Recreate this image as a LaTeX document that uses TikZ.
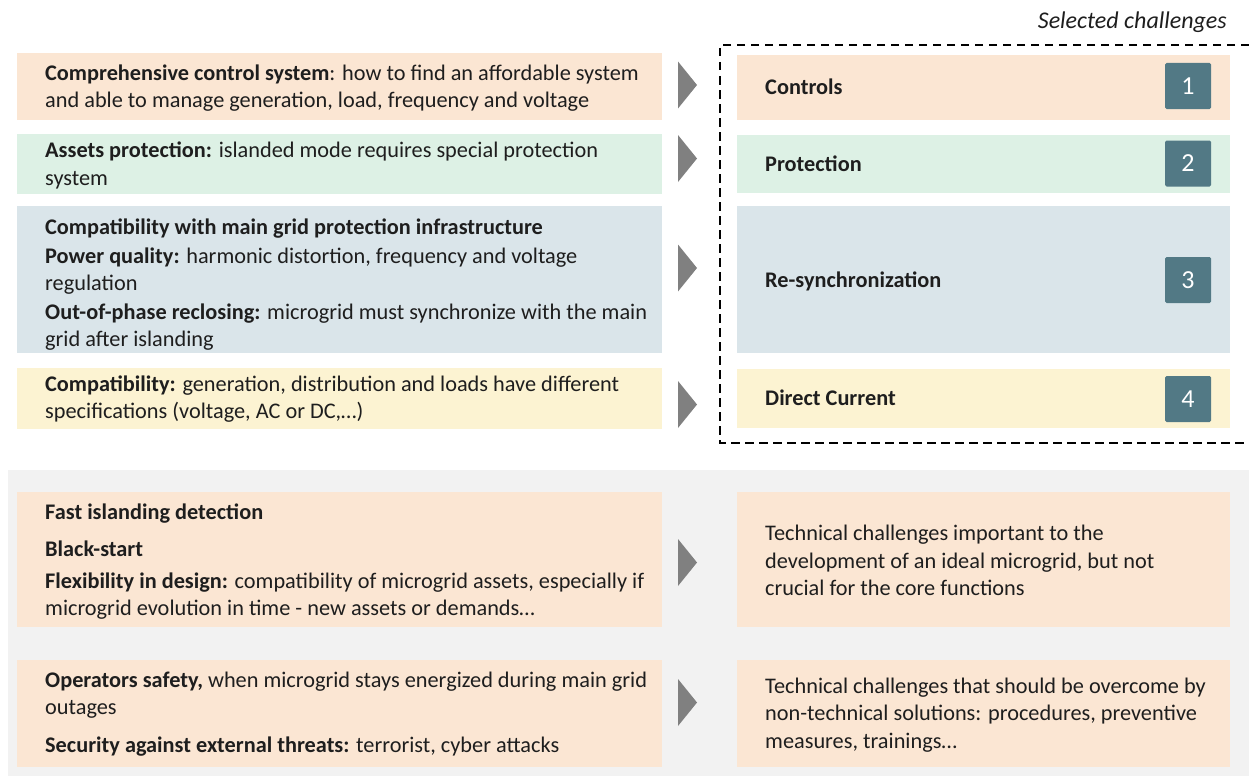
\documentclass[tikz,border=0pt]{standalone}
\usepackage{fontspec}
\setmainfont{Carlito}
\definecolor{cOrange}{HTML}{FBE6D3}
\definecolor{cGreen}{HTML}{DDF1E5}
\definecolor{cBlue}{HTML}{DAE5EA}
\definecolor{cYellow}{HTML}{FCF3D2}
\definecolor{cNum}{HTML}{527985}
\definecolor{cArrow}{HTML}{808080}
\definecolor{cBack}{HTML}{F2F2F2}
\definecolor{cText}{HTML}{1E1E1E}
\begin{document}
\begin{tikzpicture}[x=1pt,y=-1pt,
  box/.style={draw=none, inner sep=0, anchor=north west},
  ln/.style={anchor=base west, inner sep=0, text=cText, font=\fontsize{22.3}{26}\selectfont},
  numbox/.style={fill=cNum, rounded corners=1.5pt, minimum width=46pt, minimum height=46pt, inner sep=0, text=white, font=\fontsize{26}{30}\selectfont},
  tri/.style={fill=cArrow, draw=none},
  dashbox/.style={draw=black, line width=2.2pt, dash pattern=on 8.5pt off 5.5pt}
]
\useasboundingbox (0,0) rectangle (1249,776);
% background of lower section
\node[box, fill=cBack, minimum width=1241pt, minimum height=306pt] (bg) at (8,470) {};
% left boxes
\node[box, fill=cOrange, minimum width=645pt, minimum height=67pt] (L1) at (17,53) {};
\node[box, fill=cGreen,  minimum width=645pt, minimum height=60pt] (L2) at (17,134) {};
\node[box, fill=cBlue,   minimum width=645pt, minimum height=147pt] (L3) at (17,206) {};
\node[box, fill=cYellow, minimum width=645pt, minimum height=61pt] (L4) at (17,368) {};
\node[box, fill=cOrange, minimum width=645pt, minimum height=135pt] (BL1) at (17,492) {};
\node[box, fill=cOrange, minimum width=645pt, minimum height=107pt] (BL2) at (17,660) {};
% right boxes
\node[box, fill=cOrange, minimum width=493pt, minimum height=65pt] (R1) at (737,55) {};
\node[box, fill=cGreen,  minimum width=493pt, minimum height=58pt] (R2) at (737,135) {};
\node[box, fill=cBlue,   minimum width=493pt, minimum height=147pt] (R3) at (737,206) {};
\node[box, fill=cYellow, minimum width=493pt, minimum height=59pt] (R4) at (737,369) {};
\node[box, fill=cOrange, minimum width=493pt, minimum height=135pt] (BR1) at (737,492) {};
\node[box, fill=cOrange, minimum width=493pt, minimum height=107pt] (BR2) at (737,660) {};
% dashed frame
\coordinate (dTR) at (1249,45);
\coordinate (dTL) at (720,45);
\coordinate (dBL) at (720,443);
\coordinate (dBR) at (1249,443);
\draw[dashbox] (dTR) -- (dTL) -- (dBL) -- (dBR);
\node[anchor=base east, inner sep=0, text=cText, font=\fontsize{24}{28}\selectfont\itshape] (sel) at (1227,29) {Selected challenges};
% number squares
\node[numbox] (N1) at (1188,86) {1};
\node[numbox] (N2) at (1188,163.5) {2};
\node[numbox] (N3) at (1188,280) {3};
\node[numbox] (N4) at (1188,399) {4};
% arrows
\foreach \c/\n in {85/A1, 158.5/A2, 268/A3, 404.5/A4, 562.5/A5, 702.5/A6}{
  \coordinate (\n) at (678,\c);
  \fill[tri] (\n) ++(0,-23.5) -- ++(19,23.5) -- ++(-19,23.5) -- cycle;
}
% left texts
\node[ln] (t1a) at (45,80) {\textbf{Comprehensive control system}: how to find an affordable system};
\node[ln] (t1b) at (45,107) {and able to manage generation, load, frequency and voltage};
\node[ln] (t2a) at (45,157) {\textbf{Assets protection:} islanded mode requires special protection};
\node[ln] (t2b) at (45,185) {system};
\node[ln] (t3a) at (45,234) {\textbf{Compatibility with main grid protection infrastructure}};
\node[ln] (t3b) at (45,263) {\textbf{Power quality:} harmonic distortion, frequency and voltage};
\node[ln] (t3c) at (45,290) {regulation};
\node[ln] (t3d) at (45,319) {\textbf{Out-of-phase reclosing:} microgrid must synchronize with the main};
\node[ln] (t3e) at (45,346) {grid after islanding};
\node[ln] (t4a) at (45,391) {\textbf{Compatibility:} generation, distribution and loads have different};
\node[ln] (t4b) at (45,418) {specifications (voltage, AC or DC,…)};
\node[ln] (t5a) at (45,519) {\textbf{Fast islanding detection}};
\node[ln] (t5b) at (45,556) {\textbf{Black-start}};
\node[ln] (t5c) at (45,588) {\textbf{Flexibility in design:} compatibility of microgrid assets, especially if};
\node[ln] (t5d) at (45,615) {microgrid evolution in time - new assets or demands…};
\node[ln] (t6a) at (45,687) {\textbf{Operators safety,} when microgrid stays energized during main grid};
\node[ln] (t6b) at (45,714) {outages};
\node[ln] (t6c) at (45,752) {\textbf{Security against external threats:} terrorist, cyber attacks};
% right texts
\node[ln] (r1) at (765,94) {\textbf{Controls}};
\node[ln] (r2) at (765,171) {\textbf{Protection}};
\node[ln] (r3) at (765,287) {\textbf{Re-synchronization}};
\node[ln] (r4) at (765,405) {\textbf{Direct Current}};
\node[ln] (r5a) at (765,540) {Technical challenges important to the};
\node[ln] (r5b) at (765,568) {development of an ideal microgrid, but not};
\node[ln] (r5c) at (765,595) {crucial for the core functions};
\node[ln] (r6a) at (765,693) {Technical challenges that should be overcome by};
\node[ln] (r6b) at (765,720) {non-technical solutions: procedures, preventive};
\node[ln] (r6c) at (765,748) {measures, trainings…};
\end{tikzpicture}
\end{document}
